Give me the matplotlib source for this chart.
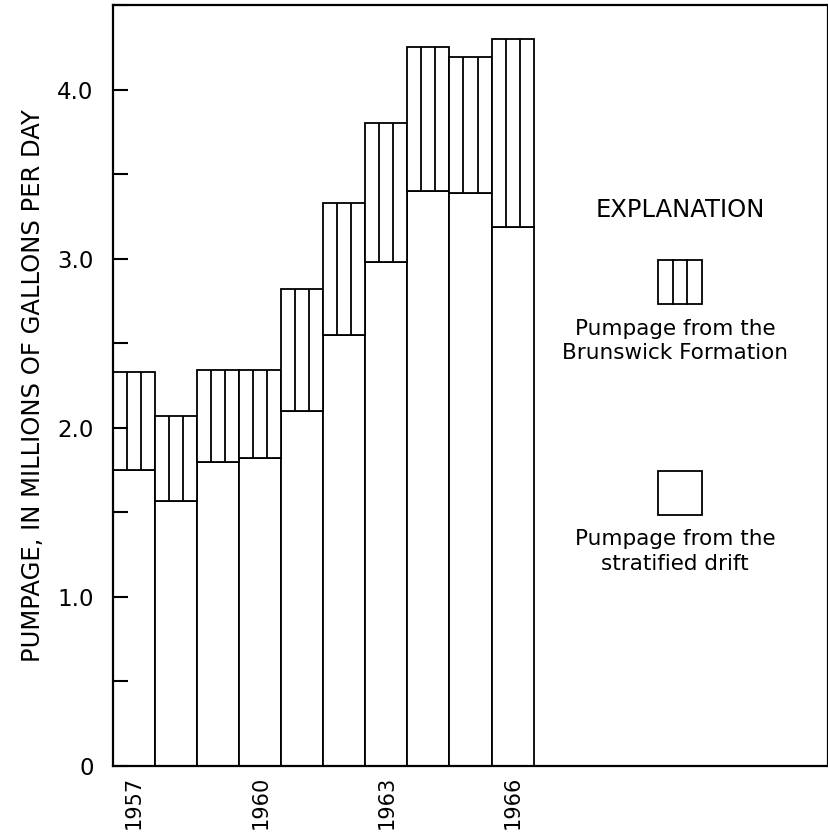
import matplotlib.pyplot as plt
import numpy as np
from matplotlib.patches import Rectangle
from matplotlib.ticker import MultipleLocator

# Pumpage by year, millions of gallons per day
years = [1957, 1958, 1959, 1960, 1961, 1962, 1963, 1964, 1965, 1966]
drift = [1.75, 1.57, 1.80, 1.82, 2.10, 2.55, 2.98, 3.40, 3.39, 3.19]
total = [2.33, 2.07, 2.34, 2.34, 2.82, 3.33, 3.80, 4.25, 4.19, 4.30]
year_labels = [1957, 1960, 1963, 1966]

brunswick = np.array(total) - np.array(drift)
x = np.array(years)
lw = 1.3

fig = plt.figure(figsize=(8.29, 8.36), dpi=100)
ax = fig.add_axes([0.1363, 0.0837, 0.8625, 0.9103])

# Stratified drift (plain) and Brunswick Formation (vertical lines) stacked
ax.bar(x, drift, width=1.0, color='white', edgecolor='black', linewidth=lw)
ax.bar(x, brunswick, width=1.0, bottom=drift, color='white', edgecolor='black', linewidth=lw)
for off in (-1 / 6, 1 / 6):
    ax.vlines(x + off, drift, total, colors='black', linewidth=lw)

ax.set_xlim(1956.5, 1973.5)
ax.set_ylim(0, 4.5)

ax.yaxis.set_minor_locator(MultipleLocator(0.5))
ax.set_yticks([0, 1, 2, 3, 4])
ax.set_yticklabels(['0', '1.0', '2.0', '3.0', '4.0'])
ax.tick_params(axis='y', which='both', direction='in', length=11, width=1.5,
               pad=14, labelsize=16.5)
ax.set_xticks(year_labels)
ax.set_xticklabels([str(y) for y in year_labels], rotation=90)
ax.tick_params(axis='x', length=0, pad=7, labelsize=15)

for s in ax.spines.values():
    s.set_linewidth(1.6)

ax.set_ylabel('PUMPAGE, IN MILLIONS OF GALLONS PER DAY', fontsize=17.5, labelpad=9)

# Explanation
tr = ax.transAxes
cx = 0.793
bw, bh = 0.0615, 0.0578
ax.text(cx, 0.7306, 'EXPLANATION', transform=tr, ha='center', va='center',
        fontsize=17.5)
ax.add_patch(Rectangle((cx - bw / 2, 0.607), bw, bh, transform=tr,
                       facecolor='white', edgecolor='black', linewidth=lw))
for f in (1 / 3, 2 / 3):
    ax.plot([cx - bw / 2 + f * bw] * 2, [0.607, 0.607 + bh], transform=tr,
            color='black', linewidth=lw)
ax.text(cx - 0.007, 0.5585, 'Pumpage from the\nBrunswick Formation', transform=tr,
        ha='center', va='center', fontsize=15.5, linespacing=1.3)
ax.add_patch(Rectangle((cx - bw / 2, 0.330), bw, bh, transform=tr,
                       facecolor='white', edgecolor='black', linewidth=lw))
ax.text(cx - 0.007, 0.282, 'Pumpage from the\nstratified drift', transform=tr,
        ha='center', va='center', fontsize=15.5, linespacing=1.3)

fig.savefig('out.png', dpi=100)
